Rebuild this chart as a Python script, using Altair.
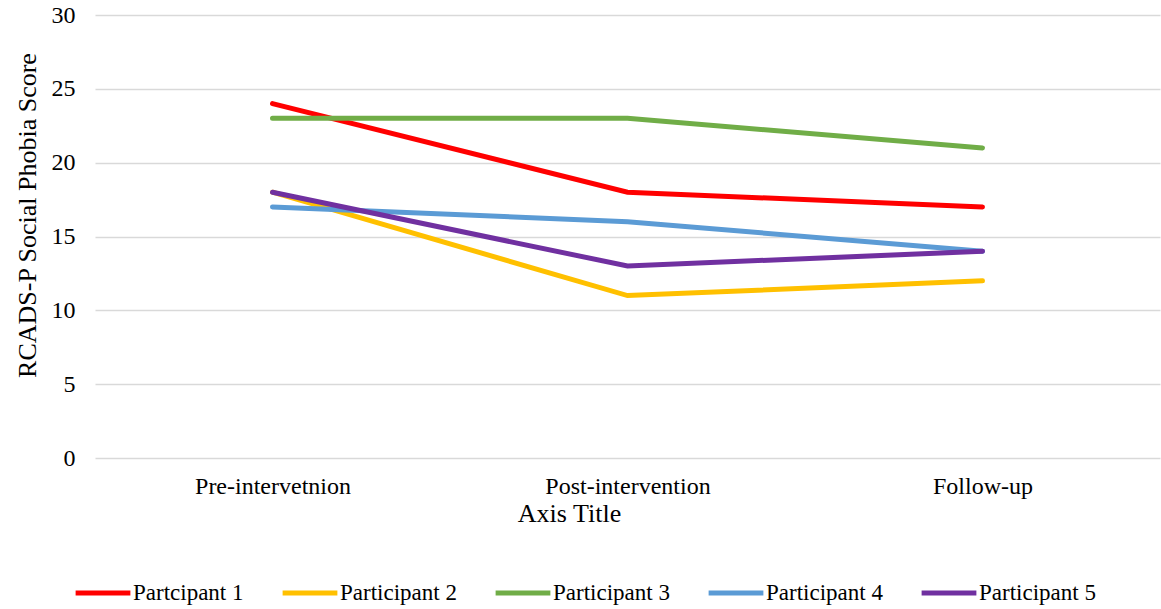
import altair as alt
import pandas as pd

phases = ["Pre-intervetnion", "Post-intervention", "Follow-up"]
participants = ["Partcipant 1", "Participant 2", "Participant 3", "Participant 4", "Participant 5"]
p1 = [24, 18, 17]
p2 = [18, 11, 12]
p3 = [23, 23, 21]
p4 = [17, 16, 14]
p5 = [18, 13, 14]
colors = ["#FF0000", "#FFC000", "#70AD47", "#5B9BD5", "#7030A0"]

rows = []
for name, vals in zip(participants, [p1, p2, p3, p4, p5]):
    for ph, v in zip(phases, vals):
        rows.append({"Phase": ph, "Participant": name, "Score": v})
df = pd.DataFrame(rows)

FONT = "Liberation Serif"

chart = alt.Chart(df).mark_line(strokeWidth=5, strokeCap="round").encode(
    x=alt.X("Phase:N", sort=phases, title="Axis Title",
            scale=alt.Scale(paddingInner=0, paddingOuter=0.5),
            axis=alt.Axis(labelAngle=0, ticks=False, domain=False, grid=False,
                          labelFontSize=24, labelFont=FONT, labelColor="#000000",
                          labelPadding=16, titleFont=FONT, titleFontSize=26,
                          titleFontWeight="normal", titleColor="#000000",
                          titlePadding=2, titleX=474)),
    y=alt.Y("Score:Q", title="RCADS-P Social Phobia Score",
            scale=alt.Scale(domain=[0, 30], nice=False),
            axis=alt.Axis(values=[0, 5, 10, 15, 20, 25, 30], ticks=False, domain=False,
                          grid=True, gridColor="#D9D9D9", gridWidth=1.5,
                          labelFontSize=24, labelFont=FONT, labelColor="#000000",
                          labelPadding=20, titleFont=FONT, titleFontSize=26,
                          titleFontWeight="normal", titleColor="#000000",
                          titlePadding=11, titleY=200)),
    color=alt.Color("Participant:N", sort=participants,
                    scale=alt.Scale(domain=participants, range=colors),
                    legend=alt.Legend(orient="none", legendX=-22, legendY=548,
                                      direction="horizontal", title=None,
                                      symbolType="stroke", symbolSize=3000,
                                      symbolStrokeWidth=5, labelFont=FONT,
                                      labelFontSize=23, labelColor="#000000",
                                      labelOffset=0, columnPadding=28,
                                      symbolOffset=0, labelLimit=300)),
).properties(
    width=1065, height=443,
    autosize=alt.AutoSizeParams(type="none"),
    padding={"left": 95, "top": 15, "right": 1, "bottom": 151},
).configure(background="white").configure_view(stroke=None)

chart.save("out.html", embed_options={"renderer": "svg", "actions": False})
